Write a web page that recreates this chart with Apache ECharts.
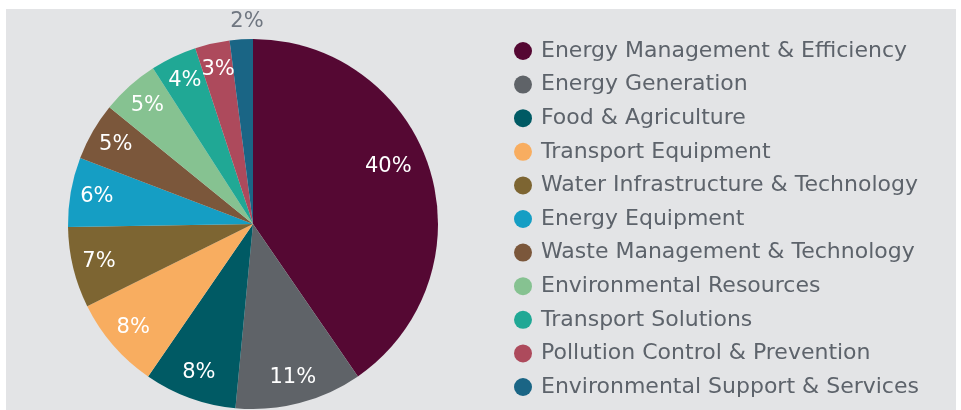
<!DOCTYPE html>
<html>
<head>
<meta charset="utf-8">
<script src="https://cdn.jsdelivr.net/npm/echarts@6/dist/echarts.min.js"></script>
<style>
  html, body { margin: 0; padding: 0; background: #fff; }
  #chart { position: absolute; left: 6px; top: 9px; width: 950px; height: 401px; background: #e3e4e6; }
</style>
</head>
<body>
<div id="chart"></div>
<script>
// sectors, clockwise from 12 o'clock
const sectors = [
  'Energy Management & Efficiency',
  'Energy Generation',
  'Food & Agriculture',
  'Transport Equipment',
  'Water Infrastructure & Technology',
  'Energy Equipment',
  'Waste Management & Technology',
  'Environmental Resources',
  'Transport Solutions',
  'Pollution Control & Prevention',
  'Environmental Support & Services'
];
const shares = [40, 11, 8, 8, 7, 6, 5, 5, 4, 3, 2];
const colors = ['#550833', '#5f6368', '#005a64', '#f8ad60', '#7d6532', '#159ec4',
                '#7b573b', '#86c291', '#20a895', '#ad4a5c', '#1a6585'];

const fontName = '"DejaVu Sans", "Open Sans", sans-serif';
const center = [247, 215];
const R = 185;

let chart = echarts.init(document.getElementById('chart'));

const pieData = sectors.map((name, i) => ({
  name: name,
  value: shares[i],
  itemStyle: { color: colors[i] }
}));

// transparent ring carrying the labels, so they sit near the rim like the original
const labelData = sectors.map((name, i) => {
  let item = { name: name, value: shares[i], itemStyle: { color: 'rgba(0,0,0,0)' } };
  if (i === 0) {
    item.label = { offset: [-16, -10] };
  }
  if (i === sectors.length - 1) {
    // the tiny slice gets its label above the pie, in grey
    item.label = { color: '#6f7680', offset: [4, -44] };
  }
  return item;
});

let option = {
  animation: false,
  legend: {
    orient: 'vertical',
    left: 503,
    top: 25,
    icon: 'circle',
    itemWidth: 18,
    itemHeight: 18,
    itemGap: 9.6,
    selectedMode: false,
    textStyle: {
      fontFamily: fontName,
      fontSize: 22,
      lineHeight: 24,
      color: '#5d636b',
      padding: [0, 0, 0, 4]
    },
    data: sectors.map((name, i) => ({ name: name, itemStyle: { color: colors[i] } }))
  },
  series: [
    {
      type: 'pie',
      center: center,
      radius: [0, R],
      startAngle: 90,
      clockwise: true,
      silent: true,
      label: { show: false },
      labelLine: { show: false },
      itemStyle: { borderWidth: 0 },
      data: pieData
    },
    {
      type: 'pie',
      center: center,
      radius: [126, R],
      startAngle: 90,
      clockwise: true,
      silent: true,
      avoidLabelOverlap: false,
      labelLayout: { hideOverlap: false },
      label: {
        show: true,
        position: 'inside',
        formatter: '{c}%',
        fontFamily: fontName,
        fontSize: 21,
        color: '#ffffff'
      },
      labelLine: { show: false },
      itemStyle: { borderWidth: 0 },
      data: labelData
    }
  ]
};

chart.setOption(option);
</script>
</body>
</html>
